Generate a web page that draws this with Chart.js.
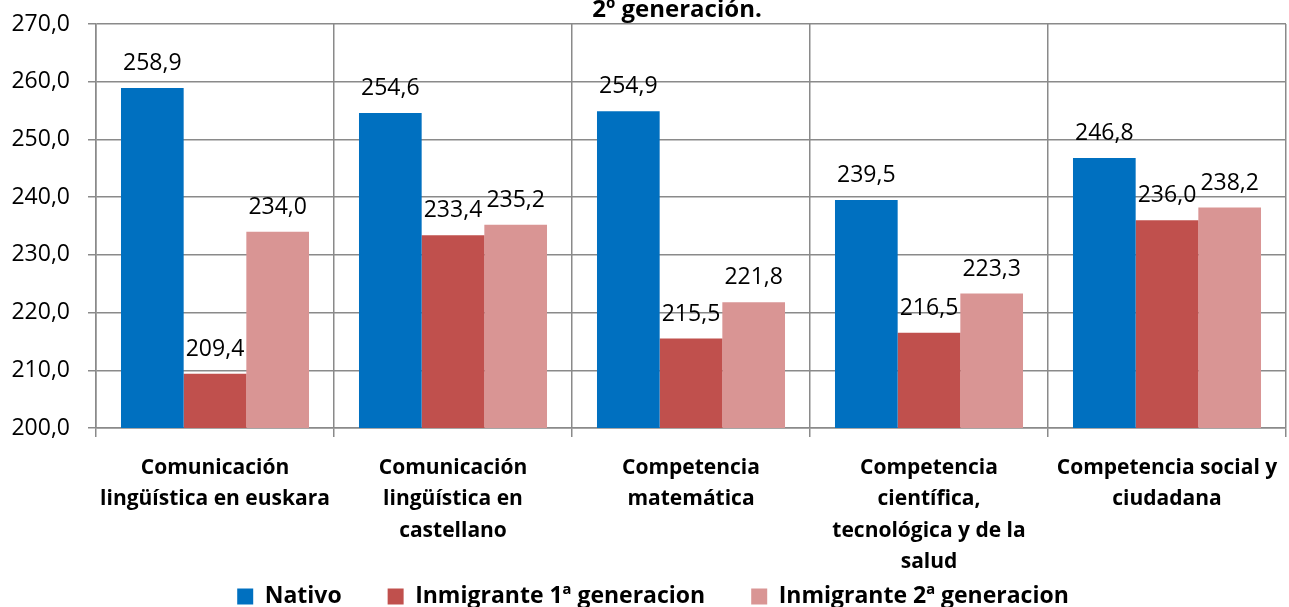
<!DOCTYPE html>
<html>
<head>
<meta charset="utf-8">
<script src="https://cdn.jsdelivr.net/npm/chart.js@4.4.1/dist/chart.umd.min.js"></script>
<style>
  html, body { margin: 0; padding: 0; background: #ffffff; }
  #wrap { width: 1289px; height: 607px; }
</style>
</head>
<body>
<div id="wrap"><canvas id="chart" width="1289" height="607"></canvas></div>
<script>
const categories = [
  ["Comunicación", "lingüística en euskara"],
  ["Comunicación", "lingüística en", "castellano"],
  ["Competencia", "matemática"],
  ["Competencia", "científica,", "tecnológica y de la", "salud"],
  ["Competencia social y", "ciudadana"]
];
const seriesNames = ["Nativo", "Inmigrante 1ª generacion", "Inmigrante 2ª generacion"];
const nativo = [258.9, 254.6, 254.9, 239.5, 246.8];
const inmigrante1 = [209.4, 233.4, 215.5, 216.5, 236.0];
const inmigrante2 = [234.0, 235.2, 221.8, 223.3, 238.2];
const yMin = 200;
const yMax = 270;
const yStep = 10;
const titleText = "2º generación.";

const colors = ["#0070C0", "#C0504D", "#D99594"];
const gridColor = "#8a8a8a";
const fontFamily = "'Open Sans', 'DejaVu Sans', sans-serif";

const fmt = (v) => v.toFixed(1).replace(".", ",");

// value labels above each bar
const valueLabels = {
  id: "valueLabels",
  afterDatasetsDraw(chart) {
    const ctx = chart.ctx;
    ctx.save();
    ctx.font = "23px " + fontFamily;
    ctx.fillStyle = "#000000";
    ctx.textAlign = "center";
    ctx.textBaseline = "alphabetic";
    chart.data.datasets.forEach((ds, i) => {
      chart.getDatasetMeta(i).data.forEach((bar, j) => {
        ctx.fillText(fmt(ds.data[j]), bar.x, bar.y - 18);
      });
    });
    ctx.restore();
  }
};

// clipped title line at the very top
const topTitle = {
  id: "topTitle",
  afterDraw(chart) {
    const ctx = chart.ctx;
    ctx.save();
    ctx.font = "bold 24px " + fontFamily;
    ctx.fillStyle = "#000000";
    ctx.textAlign = "center";
    ctx.textBaseline = "alphabetic";
    ctx.fillText(titleText, 677, 17);
    ctx.restore();
  }
};

// let the long category labels run past the axis box, nudge legend right
const layoutTweaks = {
  id: "layoutTweaks",
  afterLayout(chart) {
    chart.scales.x.bottom = chart.height;
    chart.legend.left += 10;
    chart.legend.right += 10;
  }
};

function build() {
  Chart.defaults.font.family = fontFamily;
  Chart.defaults.color = "#000000";

  new Chart(document.getElementById("chart"), {
    type: "bar",
    data: {
      labels: categories,
      datasets: [
        { label: seriesNames[0], data: nativo, backgroundColor: colors[0] },
        { label: seriesNames[1], data: inmigrante1, backgroundColor: colors[1] },
        { label: seriesNames[2], data: inmigrante2, backgroundColor: colors[2] }
      ]
    },
    options: {
      responsive: false,
      animation: false,
      categoryPercentage: 0.79,
      barPercentage: 1.0,
      layout: {
        padding: { top: 24, right: 3, left: 0, bottom: -11 }
      },
      plugins: {
        legend: {
          position: "bottom",
          labels: {
            boxWidth: 16,
            boxHeight: 16,
            padding: 46,
            color: "#000000",
            font: { size: 23, weight: "bold" }
          }
        },
        tooltip: { enabled: false }
      },
      scales: {
        x: {
          afterFit(scale) {
            scale.height = 111;
            scale.paddingLeft = 0;
            scale.paddingRight = 0;
          },
          grid: {
            color: gridColor,
            lineWidth: 1.5,
            tickLength: 9,
            offset: true
          },
          border: { color: gridColor, width: 1.5 },
          ticks: {
            color: "#000000",
            padding: 15,
            maxRotation: 0,
            autoSkip: false,
            font: { size: 21, weight: "bold", lineHeight: 1.5 }
          }
        },
        y: {
          min: yMin,
          max: yMax,
          afterFit(scale) {
            scale.width = 96;
            scale.paddingTop = 0;
            scale.paddingBottom = 0;
          },
          grid: {
            color: gridColor,
            lineWidth: 1.5,
            tickLength: 8
          },
          border: { color: gridColor, width: 1.5 },
          ticks: {
            stepSize: yStep,
            color: "#000000",
            padding: 18,
            font: { size: 23 },
            callback(value) { return fmt(Number(value)); }
          }
        }
      }
    },
    plugins: [valueLabels, topTitle, layoutTweaks]
  });
}

Promise.all([
  document.fonts.load("23px 'Open Sans'"),
  document.fonts.load("bold 21px 'Open Sans'")
]).then(build, build);
</script>
</body>
</html>
